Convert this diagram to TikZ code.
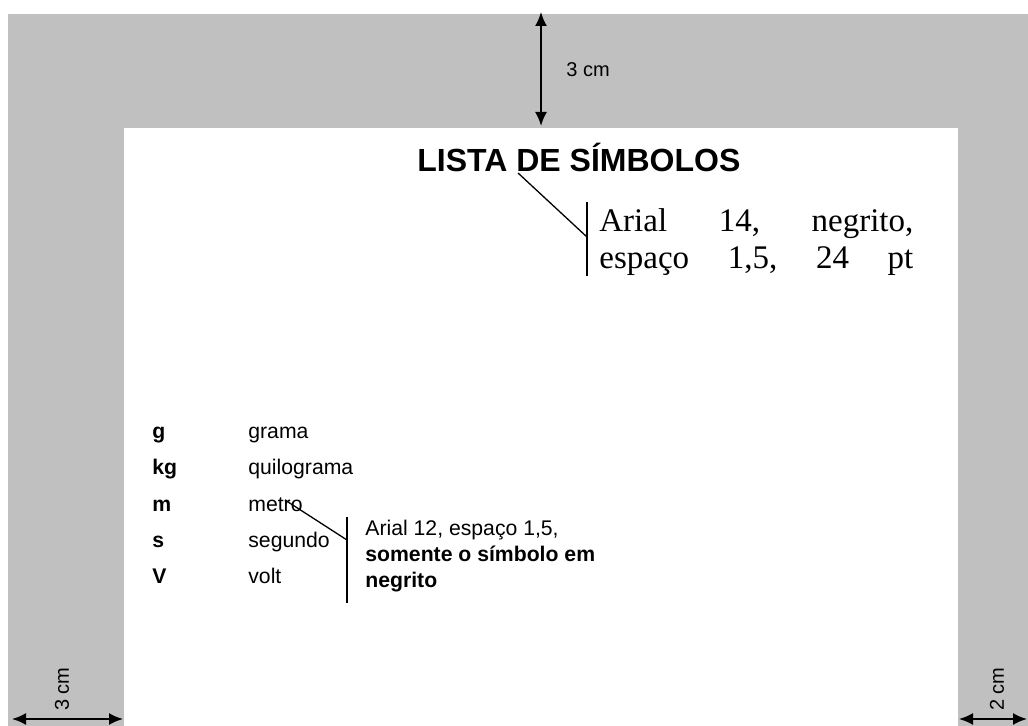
\documentclass[tikz,border=0pt]{standalone}
\usepackage{fontspec}
\setmainfont{Liberation Serif}
\setsansfont{Liberation Sans}
\usetikzlibrary{matrix,arrows.meta,positioning}

\definecolor{margem}{RGB}{192,192,192}

\tikzset{
	cota/.style={{Latex[length=7pt,width=6pt]}-{Latex[length=7pt,width=6pt]}, line width=1pt},
	rotulo/.style={font=\sffamily\fontsize{10}{12}\selectfont, inner sep=0pt},
	guia/.style={line width=0.65pt},
}

\begin{document}
\begin{tikzpicture}[x=0.5pt,y=-0.5pt]
	\useasboundingbox (0,0) rectangle (1028,726);
	\fill[margem] (8,14) rectangle (1028,726);
	\fill[white] (124,128) rectangle (958,726);

	% margens
	\coordinate (sup-a) at (541,12);
	\coordinate (sup-b) at (541,126);
	\draw[cota] (sup-a) -- (sup-b);
	\node[rotulo, anchor=west] (sup) at (566,70) {3 cm};

	\coordinate (esq-a) at (12,719);
	\coordinate (esq-b) at (123,719);
	\draw[cota] (esq-a) -- (esq-b);
	\node[rotulo, rotate=90] (esq) at (62,689) {3 cm};

	\coordinate (dir-a) at (959,719);
	\coordinate (dir-b) at (1027,719);
	\draw[cota] (dir-a) -- (dir-b);
	\node[rotulo, rotate=90] (dir) at (997,689) {2 cm};

	% titulo
	\node[anchor=base west, inner sep=0pt, font=\sffamily\bfseries\fontsize{16}{19}\selectfont] (titulo) at (417,172) {LISTA DE SÍMBOLOS};
	\node[anchor=north west, inner sep=0pt, align=left, font=\fontsize{16.5}{18.5}\selectfont] (fmt) at (599,208)
	{\hbox to 157pt{Arial\hfill 14,\hfill negrito,}\\ \hbox to 157pt{espaço\hfill 1,5,\hfill 24\hfill pt}};
	\coordinate (t-a) at (518,173);
	\coordinate (t-b) at (587,237);
	\coordinate (t-c) at (587,202);
	\coordinate (t-d) at (587,276);
	\draw[guia] (t-a) -- (t-b);
	\draw[guia] (t-c) -- (t-d);

	% lista
	\matrix (lista) [matrix of nodes, anchor=north west, inner sep=0pt, row sep=7.65pt, column sep=0pt,
		nodes={anchor=base west, inner sep=0pt, text height=8pt, text depth=2.5pt, font=\sffamily\fontsize{10.6}{12}\selectfont},
		column 1/.style={nodes={text width=48pt, font=\sffamily\bfseries\fontsize{10.6}{12}\selectfont}}] at (152,422)
	{
		g & grama \\
		kg & quilograma \\
		m & metro \\
		s & segundo \\
		V & volt \\
	};
	\node[anchor=north west, inner sep=0pt, align=left, font=\sffamily\fontsize{10.6}{13}\selectfont] (nota) at (365,520)
	{Arial 12, espaço 1,5,\\ \textbf{somente o símbolo em}\\ \textbf{negrito}};
	\coordinate (n-a) at (285,500);
	\coordinate (n-b) at (347,540);
	\coordinate (n-c) at (347,517);
	\coordinate (n-d) at (347,603);
	\draw[guia] (n-a) -- (n-b);
	\draw[guia] (n-c) -- (n-d);
\end{tikzpicture}
\end{document}
